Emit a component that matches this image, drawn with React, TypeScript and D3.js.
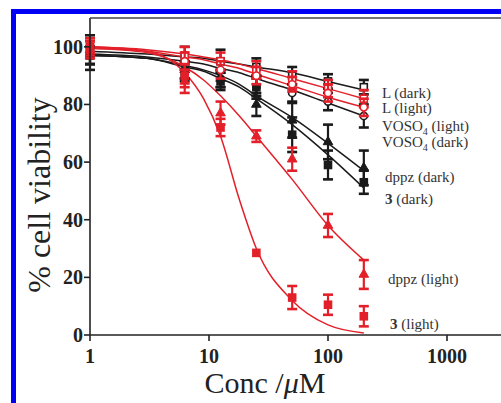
import React from "react";
import * as d3 from "d3";

// concentrations (uM) where points were measured
const concs = [1, 6.25, 12.5, 25, 50, 100, 200];
const curveConcs = [1, 3, 6.25, 9, 12.5, 18, 25, 50, 100, 200];

const seriesNames = [
  "L (dark)",
  "VOSO4 (dark)",
  "dppz (dark)",
  "3 (dark)",
  "L (light)",
  "VOSO4 (light)",
  "dppz (light)",
  "3 (light)",
];

const pointValues = [
  [98, 96, 95, 93, 90, 88, 86],
  [97, 92, 89, 86, 84, 81, 76],
  [97, 92, 89, 80, 74.5, 67, 58],
  [97, 91, 88, 86, 69.5, 59, 53],
  [100, 97, 95, 92, 88.5, 85.5, 82],
  [100, 95, 92, 90, 87, 84, 79],
  [99, 88, 77, 69, 61, 38, 21],
  [100, 90, 72, 28.5, 13, 10.5, 6.5],
];

const pointErrors = [
  [6, 4, 4, 3, 3, 2.5, 2.5],
  [3, 3, 3, 3, 3, 3, 4],
  [3, 3, 3, 4, 6, 6, 6],
  [3, 3, 3, 4, 6, 5, 4],
  [3, 3, 3, 3, 3, 3, 3],
  [2, 3, 3, 3, 2.5, 3, 3],
  [3, 4, 4, 2, 4, 4, 5],
  [2, 4, 3, 0, 4, 3.5, 3.5],
];

const curveValues = [
  [98.5, 97.5, 96.5, 96, 95, 94, 93, 91, 88, 85],
  [97.5, 96.5, 95, 94, 92.5, 91, 89, 85, 80.5, 76],
  [97, 96, 93.5, 92, 90, 87, 83, 75.5, 66.5, 57],
  [97, 96, 93, 91.5, 89, 86, 82, 73, 62.5, 51],
  [100, 99, 97.5, 96.5, 95.5, 94, 92.5, 89, 85.5, 82],
  [99.5, 98.5, 96.5, 95.5, 94, 92.5, 90.5, 86.5, 82.5, 79],
  [99.5, 98, 93, 88.5, 83, 76, 69, 54, 38, 26],
  [100, 98.5, 91, 82, 69, 47, 30, 12, 3.5, 0.7],
];

const yTicks = [0, 20, 40, 60, 80, 100];
const xTicks = [1, 10, 100, 1000];

// styling per series (not data)
const BLACK = "#1a1a1a";
const RED = "#e3202a";
const styles = [
  { color: BLACK, marker: "square", open: true },
  { color: BLACK, marker: "circle", open: true },
  { color: BLACK, marker: "triangle", open: false },
  { color: BLACK, marker: "square", open: false },
  { color: RED, marker: "square", open: true },
  { color: RED, marker: "circle", open: true },
  { color: RED, marker: "triangle", open: false },
  { color: RED, marker: "square", open: false },
];
// label placement next to the curve ends
const labelPos = [
  { x: 382, y: 98 },
  { x: 382, y: 147 },
  { x: 385, y: 182 },
  { x: 385, y: 204 },
  { x: 382, y: 113 },
  { x: 382, y: 131 },
  { x: 388, y: 284 },
  { x: 390, y: 329 },
];

const W = 501;
const H = 403;
const left = 90;
const top = 18;
const bottom = 335;

const x = d3.scaleLog().domain([1, 10000]).range([left, left + 4 * 119]);
const y = d3.scaleLinear().domain([0, 110]).range([bottom, top]);

const line = d3
  .line<number>()
  .x((d, i) => x(curveConcs[i]))
  .y((d) => y(d))
  .curve(d3.curveMonotoneX);

function Marker({ cx, cy, s }: { cx: number; cy: number; s: any }) {
  const fill = s.open ? "#fff" : s.color;
  if (s.marker === "square")
    return (
      <rect x={cx - 3.5} y={cy - 3.5} width={7} height={7} fill={fill} stroke={s.color} strokeWidth={1.6} />
    );
  if (s.marker === "circle")
    return <circle cx={cx} cy={cy} r={3.6} fill={fill} stroke={s.color} strokeWidth={1.6} />;
  const tri = d3.symbol(d3.symbolTriangle, 40)();
  return <path d={tri as string} transform={`translate(${cx},${cy})`} fill={fill} stroke={s.color} strokeWidth={1} />;
}

function Label({ name, x, y }: { name: string; x: number; y: number }) {
  if (name.startsWith("VOSO4")) {
    return (
      <text x={x} y={y}>
        VOSO<tspan fontSize={10} dy={4}>4</tspan>
        <tspan dy={-4}>{name.slice(5)}</tspan>
      </text>
    );
  }
  if (name.startsWith("3")) {
    return (
      <text x={x} y={y}>
        <tspan fontWeight="bold">3</tspan>
        {name.slice(1)}
      </text>
    );
  }
  return (
    <text x={x} y={y}>
      {name}
    </text>
  );
}

export default function App() {
  const order = [0, 1, 2, 3, 4, 5, 6, 7];
  return (
    <div style={{ position: "absolute", left: 0, top: 0 }}>
      <svg width={W} height={H} style={{ display: "block", background: "#fff" }} fontFamily="'Liberation Serif', 'Times New Roman', serif">
        {/* blue frame */}
        <rect x={13.5} y={11.5} width={W + 20} height={H + 20} fill="none" stroke="#0000f5" strokeWidth={5} />

        {/* curves */}
        {order.map((k) => (
          <path key={"c" + k} d={line(curveValues[k]) as string} fill="none" stroke={styles[k].color} strokeWidth={1.5} />
        ))}

        {/* error bars and markers */}
        {order.map((k) => (
          <g key={"p" + k}>
            {concs.map((c, i) => {
              const cx = x(c);
              const v = pointValues[k][i];
              const e = pointErrors[k][i];
              const y1 = y(v + e);
              const y2 = y(v - e);
              return (
                <g key={i}>
                  {e > 0 && (
                    <g stroke={styles[k].color} strokeWidth={2.2}>
                      <line x1={cx} x2={cx} y1={y1} y2={y2} />
                      <line x1={cx - 5} x2={cx + 5} y1={y1} y2={y1} strokeWidth={2.6} />
                      <line x1={cx - 5} x2={cx + 5} y1={y2} y2={y2} strokeWidth={2.6} />
                    </g>
                  )}
                  <Marker cx={cx} cy={y(v)} s={styles[k]} />
                </g>
              );
            })}
          </g>
        ))}

        {/* axes and frame */}
        <g stroke="#222" strokeWidth={1.6}>
          <line x1={left} x2={left} y1={top} y2={bottom} />
          <line x1={left} x2={W} y1={bottom} y2={bottom} />
          <line x1={left} x2={W} y1={top} y2={top} strokeWidth={1.3} stroke="#444" />
          {yTicks.map((t) => (
            <line key={t} x1={left - 6} x2={left} y1={y(t)} y2={y(t)} />
          ))}
          {xTicks.map((t) => (
            <line key={t} x1={x(t)} x2={x(t)} y1={bottom} y2={bottom + 6} />
          ))}
        </g>
        <g fontSize={20} fontWeight="bold" fill="#222">
          {yTicks.map((t) => (
            <text key={t} x={left - 7} y={y(t) + 7} textAnchor="end">
              {t}
            </text>
          ))}
          {xTicks.map((t) => (
            <text key={t} x={x(t)} y={bottom + 28} textAnchor="middle">
              {t}
            </text>
          ))}
        </g>

        {/* axis titles */}
        <text x={265} y={393} fontSize={30} textAnchor="middle" fill="#222">
          Conc /<tspan fontStyle="italic">μ</tspan>M
        </text>
        <text transform="translate(50,195) rotate(-90)" fontSize={32} textAnchor="middle" fill="#222">
          % cell viability
        </text>

        {/* series labels */}
        <g fontSize={15} fill="#333">
          {order.map((k) => (
            <Label key={"l" + k} name={seriesNames[k]} x={labelPos[k].x} y={labelPos[k].y} />
          ))}
        </g>
      </svg>
    </div>
  );
}
